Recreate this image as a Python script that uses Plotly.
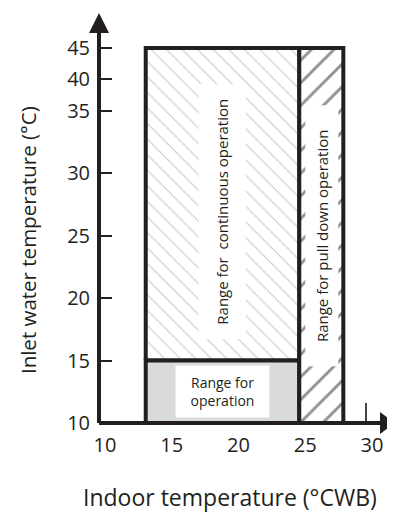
import numpy as np
import plotly.graph_objects as go

# ---- data ----
x_ticks = [10, 15, 20, 25, 30]
y_ticks = [10, 15, 20, 25, 30, 35, 40, 45]
# the chart's y scale: values above 35 °C are drawn at half spacing
y_break_vals = [10, 35, 45]
y_break_pos = [0, 5, 6]

region_labels = ["Range for  continuous operation",
                 "Range for<br>operation",
                 "Range for pull down operation"]
region_x0 = [13.5, 13.5, 25.0]
region_x1 = [25.0, 25.0, 28.3]
region_y0 = [15, 10, 10]
region_y1 = [45, 15, 45]


def ys(v):
    return np.interp(v, y_break_vals, y_break_pos)


INK = "#231f20"
FONT = "Open Sans"

fig = go.Figure()

fills = [
    dict(fillcolor="white",
         fillpattern=dict(shape="\\", fgcolor="#8e8e8e", bgcolor="white",
                          size=11, solidity=0.09)),
    dict(fillcolor="#d9dadb"),
    dict(fillcolor="white",
         fillpattern=dict(shape="/", fgcolor=INK, bgcolor="white",
                          size=16, solidity=0.18)),
]

for i in range(3):
    xs = [region_x0[i], region_x1[i], region_x1[i], region_x0[i], region_x0[i]]
    yv = ys([region_y0[i], region_y0[i], region_y1[i], region_y1[i], region_y0[i]])
    fig.add_trace(go.Scatter(
        x=xs, y=yv, mode="lines", fill="toself",
        line=dict(color=INK, width=4),
        hoverinfo="skip", showlegend=False, **fills[i]))

# region labels
cx = [(a + b) / 2 for a, b in zip(region_x0, region_x1)]
cy = [(ys(a) + ys(b)) / 2 for a, b in zip(region_y0, region_y1)]
label_style = [
    dict(textangle=-90, width=252, height=44, yshift=-8, size=15),
    dict(textangle=0, width=91, height=49, yshift=0, size=14),
    dict(textangle=-90, width=258, height=30, yshift=0, size=15),
]
for i in range(3):
    st = dict(label_style[i])
    fs = st.pop("size")
    fig.add_annotation(x=cx[i], y=cy[i], xref="x", yref="y",
                       text=region_labels[i], showarrow=False,
                       bgcolor="white", align="center", valign="middle",
                       font=dict(family=FONT, size=fs, color=INK), **st)

# axis titles
fig.add_annotation(x=0.4426, y=-0.1805, xref="paper", yref="paper",
                   xanchor="center", yanchor="middle",
                   text="Indoor temperature (°CWB)", showarrow=False,
                   font=dict(family=FONT, size=23, color=INK))
fig.add_annotation(x=-0.24, y=0.446, xref="paper", yref="paper",
                   xanchor="center", yanchor="middle",
                   text="Inlet water temperature (°C)", showarrow=False,
                   textangle=-90,
                   font=dict(family=FONT, size=20.5, color=INK))

# axis lines with arrowheads
fig.add_shape(type="line", xref="paper", yref="paper", x0=0, x1=0.97, y0=0, y1=0,
              line=dict(color=INK, width=4))
fig.add_shape(type="line", xref="paper", yref="paper", x0=0, x1=0, y0=0, y1=0.97,
              line=dict(color=INK, width=4))
fig.add_shape(type="path", xref="paper", yref="paper",
              xsizemode="pixel", ysizemode="pixel", xanchor=0, yanchor=1,
              path="M-10,-20 L0,0 L10,-20 Z", fillcolor=INK, line=dict(width=0))
fig.add_shape(type="path", xref="paper", yref="paper",
              xsizemode="pixel", ysizemode="pixel", xanchor=1, yanchor=0,
              path="M-15,11 L0,0 L-15,-11 Z", fillcolor=INK, line=dict(width=0))

# page body has an 8px margin, so the figure is drawn 8px smaller
fig.update_layout(
    width=387, height=507,
    margin=dict(l=91, r=0, t=5, b=92),
    paper_bgcolor="white", plot_bgcolor="white",
    showlegend=False,
    xaxis=dict(range=[10, 32.17], tickvals=x_ticks, ticktext=[str(v) for v in x_ticks],
               showgrid=False, zeroline=False, showline=False,
               ticks="inside", ticklen=20, tickwidth=1.5, tickcolor="#444",
               layer="below traces", ticklabelshift=6, ticklabelstandoff=8,
               tickfont=dict(family=FONT, size=20, color=INK), fixedrange=True),
    yaxis=dict(range=[0, 6.56], tickvals=list(ys(y_ticks)), ticktext=[str(v) for v in y_ticks],
               showgrid=False, zeroline=False, showline=False,
               ticks="inside", ticklen=13, tickwidth=1.5, tickcolor=INK,
               layer="below traces", ticklabelstandoff=8,
               tickfont=dict(family=FONT, size=20, color=INK), fixedrange=True),
)

fig.write_html("out.html")
